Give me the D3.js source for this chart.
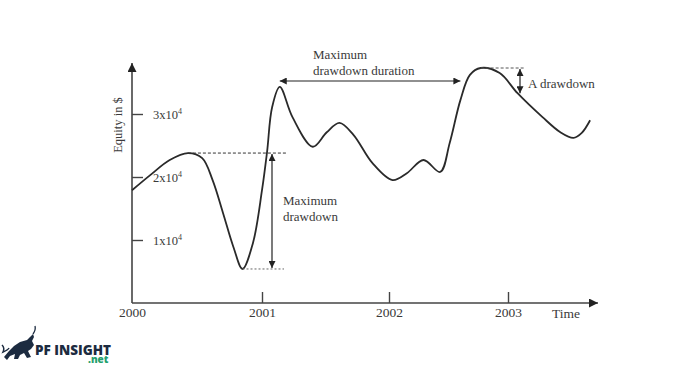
<!DOCTYPE html>
<html>
<head>
<meta charset="utf-8">
<script src="https://cdn.jsdelivr.net/npm/d3@7"></script>
<style>
	body { margin: 0; background: #fff; }
	svg text { font-family: "Liberation Serif", "DejaVu Serif", serif; fill: #3a3a3a; }
	.logo text { font-family: "Open Sans", "Noto Sans", sans-serif; }
</style>
</head>
<body>
<div id="chart"></div>
<script>
// equity curve (time in years, equity in $)
var curveTime = [
	2000, 2000.14, 2000.29, 2000.43, 2000.54, 2000.62, 2000.7, 2000.78, 2000.85, 2000.93,
	2001, 2001.04, 2001.08, 2001.14, 2001.24, 2001.4, 2001.51, 2001.61, 2001.72, 2001.87,
	2002.03, 2002.15, 2002.29, 2002.43, 2002.51, 2002.6, 2002.68, 2002.77, 2002.93, 2003.08,
	2003.29, 2003.44, 2003.55, 2003.62, 2003.69
];
var curveEquity = [
	17900, 20300, 22700, 23800, 23000, 19500, 14300, 8900, 5400, 9500,
	17900, 24000, 31100, 34300, 29500, 24800, 27100, 28600, 26700, 22200,
	19500, 20600, 22700, 20800, 25400, 32200, 36200, 37300, 36500, 33300,
	29500, 27100, 26200, 27000, 29000
];

var yearTicks = [2000, 2001, 2002, 2003];
var equityTicks = [10000, 20000, 30000];

// annotation anchors
var maxPeak = { t: 2000.43, v: 23800 };
var maxTrough = { t: 2000.85, v: 5400 };
var durationStart = 2001.14;
var durationEnd = 2002.6;
var lastPeak = { t: 2002.77, v: 37300 };
var lastDropValue = 33300;

drawChart();

function drawChart() {
	var width = 700;
	var height = 365;

	var svg = d3.select('#chart')
		.append('svg')
		.attr('width', width)
		.attr('height', height);

	// the years are not evenly spaced in the original figure
	var xScale = d3.scaleLinear()
		.domain([2000, 2001, 2002, 2003, 2004])
		.range([132, 262, 389, 508, 627]);

	var yScale = d3.scaleLinear()
		.domain([0, 30000])
		.range([303, 114]);

	var defs = svg.append('defs');

	defs.append('marker')
		.attr('id', 'head')
		.attr('viewBox', '0 0 10 10')
		.attr('refX', 10)
		.attr('refY', 5)
		.attr('markerWidth', 8)
		.attr('markerHeight', 7)
		.attr('markerUnits', 'userSpaceOnUse')
		.attr('orient', 'auto-start-reverse')
		.append('path')
		.attr('d', 'M0,0L10,5L0,10Z')
		.attr('fill', '#222');

	defs.append('marker')
		.attr('id', 'axisHead')
		.attr('viewBox', '0 0 10 10')
		.attr('refX', 10)
		.attr('refY', 5)
		.attr('markerWidth', 10)
		.attr('markerHeight', 9)
		.attr('markerUnits', 'userSpaceOnUse')
		.attr('orient', 'auto')
		.append('path')
		.attr('d', 'M0,0L10,5L0,10Z')
		.attr('fill', '#222');

	// axes lines with arrows
	svg.append('line')
		.attr('x1', xScale(2000)).attr('y1', yScale(0))
		.attr('x2', 598).attr('y2', yScale(0))
		.attr('stroke', '#444').attr('stroke-width', 1.6)
		.attr('marker-end', 'url(#axisHead)');

	svg.append('line')
		.attr('x1', xScale(2000)).attr('y1', yScale(0))
		.attr('x2', xScale(2000)).attr('y2', 63)
		.attr('stroke', '#444').attr('stroke-width', 1.6)
		.attr('marker-end', 'url(#axisHead)');

	var xAxis = svg.append('g')
		.attr('class', 'x-axis')
		.attr('transform', 'translate(0,' + yScale(0) + ')')
		.call(d3.axisBottom(xScale).tickValues(yearTicks).tickFormat(d3.format('d')).tickSize(-11).tickPadding(4));

	xAxis.select('.domain').remove();
	xAxis.selectAll('.tick line')
		.attr('stroke', '#444')
		.attr('stroke-width', 1.4)
		.filter(function(d) { return d === 2000; })
		.remove();
	xAxis.selectAll('.tick text')
		.attr('font-size', 13.5)
		.attr('font-family', null)
		.attr('fill', null);

	svg.append('text')
		.attr('x', 566)
		.attr('y', 318)
		.attr('text-anchor', 'middle')
		.attr('font-size', 13.5)
		.text('Time');

	var yAxis = svg.append('g')
		.attr('class', 'y-axis')
		.attr('transform', 'translate(' + xScale(2000) + ',0)')
		.call(d3.axisRight(yScale).tickValues(equityTicks).tickSize(11).tickPadding(10).tickFormat(''));

	yAxis.select('.domain').remove();
	yAxis.selectAll('.tick line').attr('stroke', '#444').attr('stroke-width', 1.4);

	yAxis.selectAll('.tick text')
		.attr('font-size', 12.5)
		.attr('font-family', null)
		.attr('fill', null)
		.each(function(d) {
			var text = d3.select(this);
			text.append('tspan').style('fill', '#3a3a3a').text((d / 10000) + 'x10');
			text.append('tspan').style('fill', '#3a3a3a').attr('dy', -5).attr('font-size', 8).text('4');
		});

	svg.append('text')
		.attr('transform', 'translate(122,125) rotate(-90)')
		.attr('text-anchor', 'middle')
		.attr('font-size', 12.5)
		.text('Equity in $');

	// equity curve
	var line = d3.line()
		.x(function(d) { return xScale(d); })
		.y(function(d, i) { return yScale(curveEquity[i]); })
		.curve(d3.curveCatmullRom.alpha(0.5));

	svg.append('path')
		.datum(curveTime)
		.attr('d', line)
		.attr('fill', 'none')
		.attr('stroke', '#2a2a2a')
		.attr('stroke-width', 1.8);

	// maximum drawdown
	var ddX = 272;

	svg.append('line')
		.attr('x1', xScale(maxPeak.t)).attr('y1', yScale(maxPeak.v))
		.attr('x2', 287).attr('y2', yScale(maxPeak.v))
		.attr('stroke', '#333').attr('stroke-dasharray', '3,2');

	svg.append('line')
		.attr('x1', xScale(maxTrough.t)).attr('y1', yScale(maxTrough.v))
		.attr('x2', 284).attr('y2', yScale(maxTrough.v))
		.attr('stroke', '#666').attr('stroke-dasharray', '2,2');

	svg.append('line')
		.attr('x1', ddX).attr('y1', yScale(maxPeak.v) + 1)
		.attr('x2', ddX).attr('y2', yScale(maxTrough.v) - 1)
		.attr('stroke', '#222').attr('stroke-width', 1.2)
		.attr('marker-start', 'url(#head)')
		.attr('marker-end', 'url(#head)');

	svg.append('text')
		.attr('x', 283).attr('y', 205)
		.attr('font-size', 13)
		.text('Maximum');

	svg.append('text')
		.attr('x', 283).attr('y', 221)
		.attr('font-size', 13)
		.text('drawdown');

	// maximum drawdown duration
	svg.append('line')
		.attr('x1', xScale(durationStart)).attr('y1', 81)
		.attr('x2', xScale(durationEnd)).attr('y2', 81)
		.attr('stroke', '#222').attr('stroke-width', 1.2)
		.attr('marker-start', 'url(#head)')
		.attr('marker-end', 'url(#head)');

	svg.append('text')
		.attr('x', 313).attr('y', 59)
		.attr('font-size', 13)
		.text('Maximum');

	svg.append('text')
		.attr('x', 313).attr('y', 75)
		.attr('font-size', 13)
		.text('drawdown duration');

	// a drawdown
	var smallX = 520;

	svg.append('line')
		.attr('x1', xScale(lastPeak.t)).attr('y1', yScale(lastPeak.v))
		.attr('x2', smallX + 4).attr('y2', yScale(lastPeak.v))
		.attr('stroke', '#555').attr('stroke-dasharray', '3,2');

	svg.append('line')
		.attr('x1', smallX).attr('y1', yScale(lastPeak.v) + 1)
		.attr('x2', smallX).attr('y2', yScale(lastDropValue))
		.attr('stroke', '#222').attr('stroke-width', 1.2)
		.attr('marker-start', 'url(#head)')
		.attr('marker-end', 'url(#head)');

	svg.append('text')
		.attr('x', 528).attr('y', 88)
		.attr('font-size', 13)
		.text('A drawdown');

	// logo
	var logo = svg.append('g').attr('class', 'logo');

	logo.append('path')
		.attr('d', 'M4,357 L9,351 L14,346 L20,342 L27,340 L30,337 L33,334 L34,337 L32,341 L34,345 L31,349 L28,351 L31,357 L27,358 L24,353 L20,355 L18,359 L14,359 L15,354 L10,356 L7,360 Z')
		.attr('fill', '#1c2b40');

	logo.append('path')
		.attr('d', 'M33,334 Q36,330 35,326')
		.attr('fill', 'none')
		.attr('stroke', '#1c2b40')
		.attr('stroke-width', 1.3);

	logo.append('path')
		.attr('d', 'M2,345 Q5,348 3,352 Q8,350 9,348')
		.attr('fill', 'none')
		.attr('stroke', '#1c2b40')
		.attr('stroke-width', 1.5);

	logo.append('text')
		.attr('x', 35).attr('y', 355)
		.attr('font-size', 13.5)
		.attr('font-weight', 800)
		.attr('textLength', 76)
		.attr('lengthAdjust', 'spacingAndGlyphs')
		.style('fill', '#1c2b40')
		.text('PF INSIGHT');

	logo.append('text')
		.attr('x', 88).attr('y', 363)
		.attr('font-size', 10)
		.attr('font-weight', 800)
		.style('fill', '#23a06c')
		.text('.net');
}
</script>
</body>
</html>
